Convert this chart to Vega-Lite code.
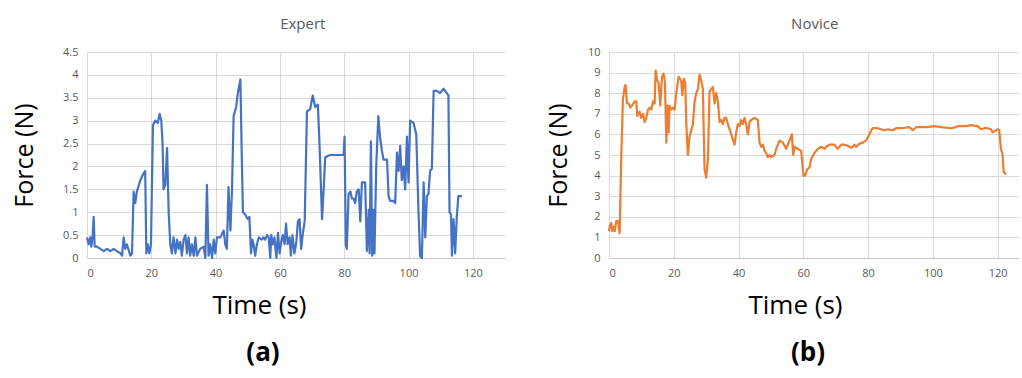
{
 "$schema": "https://vega.github.io/schema/vega-lite/v6.json",
 "padding": {"left": 12, "top": 17, "right": 0, "bottom": 0},
 "spacing": 41,
 "config": {
   "view": {"stroke": null},
   "font": "Open Sans",
   "axis": {"grid": true, "gridColor": "#d9d9d9", "ticks": false, "labelColor": "#595959", "labelFontSize": 11, "titleFontWeight": "normal", "titleColor": "#000000", "domain": false, "labelPadding": 9, "format": "~r"},
   "axisX": {"domain": true, "domainColor": "#c8c8c8", "titlePadding": 14, "titleFontSize": 26},
   "axisY": {"titleFontSize": 25},
   "title": {"fontSize": 15, "fontWeight": "normal", "color": "#595959", "offset": 14, "anchor": "middle"}
 },
 "datasets": {
  "expert": [
   {"t":0,"f":0.45},{"t":0.5,"f":0.3},{"t":1,"f":0.45},{"t":1.35,"f":0.25},{"t":1.76,"f":0.5},{"t":2.07,"f":0.9},{"t":2.38,"f":0.25},{"t":3.1,"f":0.25},{"t":4.15,"f":0.2},{"t":5.2,"f":0.15},{"t":6.2,"f":0.2},{"t":7.25,"f":0.15},{"t":8.3,"f":0.2},{"t":9.3,"f":0.15},{"t":10.4,"f":0.1},{"t":10.9,"f":0.05},{"t":11.4,"f":0.45},{"t":11.9,"f":0.2},{"t":12.4,"f":0.3},{"t":13.5,"f":0.05},{"t":14,"f":0.1},{"t":14.5,"f":1.45},{"t":15,"f":1.2},{"t":15.5,"f":1.45},{"t":16.6,"f":1.7},{"t":17.6,"f":1.85},{"t":18.1,"f":1.9},{"t":18.45,"f":0.1},{"t":18.9,"f":0.3},{"t":19.4,"f":0.1},{"t":19.9,"f":0.3},{"t":20.5,"f":2.9},{"t":21.2,"f":3.0},{"t":22,"f":2.95},{"t":22.6,"f":3.15},{"t":23.1,"f":3.0},{"t":23.5,"f":2.5},{"t":23.8,"f":1.5},{"t":24.35,"f":1.6},{"t":24.9,"f":2.4},{"t":25.4,"f":1.0},{"t":25.9,"f":0.3},{"t":26.4,"f":0.1},{"t":26.9,"f":0.45},{"t":27.5,"f":0.1},{"t":28,"f":0.4},{"t":28.5,"f":0.2},{"t":29,"f":0.35},{"t":29.5,"f":0.05},{"t":30.05,"f":0.4},{"t":30.6,"f":0.5},{"t":31.1,"f":0.1},{"t":31.6,"f":0.45},{"t":32.1,"f":0.05},{"t":32.6,"f":0.3},{"t":33.2,"f":0.05},{"t":33.7,"f":0.45},{"t":34.2,"f":0.05},{"t":35.2,"f":0.2},{"t":36.3,"f":0.25},{"t":36.8,"f":0.0},{"t":37.3,"f":1.6},{"t":37.8,"f":0.05},{"t":38.3,"f":0.3},{"t":38.9,"f":0.0},{"t":39.4,"f":0.4},{"t":39.9,"f":0.1},{"t":40.4,"f":0.45},{"t":41.5,"f":0.45},{"t":42.5,"f":0.6},{"t":43,"f":0.3},{"t":43.5,"f":0.2},{"t":44,"f":1.55},{"t":44.6,"f":0.6},{"t":45.1,"f":1.5},{"t":45.6,"f":3.1},{"t":46.4,"f":3.3},{"t":46.9,"f":3.6},{"t":47.7,"f":3.9},{"t":48.2,"f":2.0},{"t":48.5,"f":1.0},{"t":49.2,"f":0.95},{"t":49.95,"f":0.85},{"t":50.5,"f":0.9},{"t":51,"f":0.1},{"t":51.4,"f":0.4},{"t":51.8,"f":0.3},{"t":52.3,"f":0.05},{"t":52.85,"f":0.3},{"t":53.4,"f":0.45},{"t":54.4,"f":0.4},{"t":54.9,"f":0.45},{"t":55.4,"f":0.4},{"t":56,"f":0.5},{"t":56.5,"f":0.45},{"t":57,"f":0.0},{"t":57.3,"f":0.5},{"t":57.8,"f":0.3},{"t":58.3,"f":0.45},{"t":58.9,"f":0.0},{"t":59.4,"f":0.55},{"t":59.9,"f":0.1},{"t":60.4,"f":0.35},{"t":60.9,"f":0.5},{"t":61.45,"f":0.3},{"t":61.9,"f":0.75},{"t":62.4,"f":0.3},{"t":63,"f":0.45},{"t":63.4,"f":0.05},{"t":63.9,"f":0.5},{"t":64.5,"f":0.1},{"t":65.1,"f":0.35},{"t":65.6,"f":0.8},{"t":66.1,"f":0.85},{"t":66.6,"f":0.2},{"t":67.15,"f":0.55},{"t":67.7,"f":0.8},{"t":68.4,"f":3.2},{"t":69.4,"f":3.25},{"t":70.2,"f":3.55},{"t":71,"f":3.3},{"t":71.8,"f":3.35},{"t":72.3,"f":2.5},{"t":73.1,"f":0.85},{"t":73.6,"f":1.5},{"t":74.1,"f":2.2},{"t":75.6,"f":2.25},{"t":77.7,"f":2.25},{"t":79.8,"f":2.25},{"t":80.1,"f":2.65},{"t":80.5,"f":0.3},{"t":80.8,"f":0.2},{"t":81.35,"f":1.4},{"t":81.9,"f":1.45},{"t":82.4,"f":1.3},{"t":82.9,"f":1.3},{"t":83.4,"f":1.2},{"t":83.9,"f":1.45},{"t":84.5,"f":1.5},{"t":85,"f":0.8},{"t":85.5,"f":1.65},{"t":86,"f":1.65},{"t":86.5,"f":1.65},{"t":87.05,"f":0.15},{"t":87.6,"f":1.05},{"t":87.9,"f":0.1},{"t":88.3,"f":2.55},{"t":88.7,"f":0.05},{"t":89.1,"f":1.05},{"t":89.4,"f":0.1},{"t":89.95,"f":2.0},{"t":90.6,"f":3.1},{"t":91.2,"f":2.6},{"t":91.7,"f":2.35},{"t":92.2,"f":2.15},{"t":93.3,"f":2.15},{"t":93.8,"f":1.35},{"t":94.3,"f":1.25},{"t":95.3,"f":1.25},{"t":95.85,"f":1.2},{"t":96.4,"f":2.3},{"t":96.9,"f":1.9},{"t":97.4,"f":2.45},{"t":97.9,"f":1.7},{"t":98.45,"f":2.0},{"t":98.96,"f":1.5},{"t":99.5,"f":2.65},{"t":100,"f":1.65},{"t":100.5,"f":3.0},{"t":101.55,"f":2.95},{"t":102.4,"f":2.7},{"t":103.1,"f":1.0},{"t":103.6,"f":0.05},{"t":104.15,"f":0.0},{"t":104.7,"f":1.65},{"t":105.2,"f":0.45},{"t":105.7,"f":1.35},{"t":106.2,"f":1.4},{"t":106.7,"f":1.9},{"t":107.25,"f":1.95},{"t":107.8,"f":3.65},{"t":108.8,"f":3.65},{"t":109.8,"f":3.6},{"t":110.9,"f":3.7},{"t":111.9,"f":3.6},{"t":112.4,"f":3.55},{"t":112.75,"f":1.0},{"t":113.2,"f":0.95},{"t":113.5,"f":0.05},{"t":114,"f":0.85},{"t":114.5,"f":0.1},{"t":115,"f":0.9},{"t":115.5,"f":1.35},{"t":116.6,"f":1.35}
  ],
  "novice": [
   {"t":0,"f":1.3},{"t":0.3,"f":1.6},{"t":0.7,"f":1.7},{"t":1.0,"f":1.3},{"t":1.4,"f":1.5},{"t":1.75,"f":1.3},{"t":2.26,"f":1.8},{"t":2.78,"f":1.8},{"t":3.29,"f":1.2},{"t":3.8,"f":5.0},{"t":4.3,"f":7.7},{"t":4.83,"f":8.3},{"t":5.14,"f":8.4},{"t":5.55,"f":7.5},{"t":6.07,"f":7.5},{"t":6.58,"f":7.3},{"t":7.1,"f":7.4},{"t":7.92,"f":7.6},{"t":8.43,"f":7.6},{"t":8.74,"f":6.9},{"t":9.46,"f":7.1},{"t":9.97,"f":6.8},{"t":10.49,"f":7.0},{"t":11,"f":6.6},{"t":11.52,"f":6.8},{"t":12.03,"f":7.2},{"t":12.54,"f":7.3},{"t":13.06,"f":7.2},{"t":13.57,"f":7.6},{"t":14.09,"f":7.5},{"t":14.4,"f":9.1},{"t":14.91,"f":8.6},{"t":15.32,"f":8.5},{"t":15.84,"f":7.4},{"t":16.35,"f":8.8},{"t":16.86,"f":8.95},{"t":17.28,"f":8.5},{"t":17.69,"f":5.6},{"t":18,"f":7.4},{"t":18.41,"f":6.1},{"t":18.71,"f":7.4},{"t":19.23,"f":7.2},{"t":19.74,"f":7.3},{"t":20.26,"f":7.2},{"t":20.77,"f":8.0},{"t":21.49,"f":8.8},{"t":22.31,"f":8.6},{"t":22.62,"f":7.9},{"t":23.14,"f":8.7},{"t":23.55,"f":8.5},{"t":23.86,"f":6.5},{"t":24.37,"f":5.0},{"t":24.88,"f":5.9},{"t":25.4,"f":6.2},{"t":25.91,"f":6.5},{"t":26.43,"f":7.6},{"t":26.94,"f":8.0},{"t":27.46,"f":8.2},{"t":27.97,"f":8.9},{"t":28.48,"f":8.6},{"t":29,"f":8.2},{"t":29.2,"f":6.5},{"t":29.51,"f":4.3},{"t":30.03,"f":3.9},{"t":30.54,"f":4.8},{"t":31.05,"f":8.1},{"t":31.57,"f":8.2},{"t":32.08,"f":8.3},{"t":32.6,"f":7.5},{"t":33.11,"f":8.0},{"t":33.62,"f":7.6},{"t":34.14,"f":6.6},{"t":34.65,"f":6.7},{"t":35.17,"f":6.5},{"t":35.68,"f":6.8},{"t":36.2,"f":6.8},{"t":36.71,"f":6.5},{"t":37.74,"f":6.0},{"t":38.77,"f":5.5},{"t":39.28,"f":6.1},{"t":39.79,"f":6.5},{"t":40.31,"f":6.4},{"t":40.82,"f":6.7},{"t":41.34,"f":6.5},{"t":41.85,"f":6.8},{"t":42.37,"f":6.5},{"t":42.88,"f":6.0},{"t":43.39,"f":6.6},{"t":43.91,"f":6.7},{"t":44.94,"f":6.8},{"t":45.96,"f":6.7},{"t":46.48,"f":5.6},{"t":46.99,"f":5.4},{"t":47.51,"f":5.5},{"t":48.02,"f":5.2},{"t":48.53,"f":5.1},{"t":49.05,"f":4.9},{"t":49.56,"f":5.0},{"t":50.08,"f":4.9},{"t":51.11,"f":5.0},{"t":51.62,"f":5.3},{"t":52.65,"f":5.7},{"t":53.68,"f":5.6},{"t":54.7,"f":5.3},{"t":55.22,"f":5.5},{"t":55.73,"f":5.7},{"t":56.45,"f":6.0},{"t":56.86,"f":5.0},{"t":57.28,"f":5.4},{"t":58.3,"f":5.3},{"t":59.33,"f":5.2},{"t":60.05,"f":4.0},{"t":60.57,"f":4.0},{"t":61.18,"f":4.3},{"t":61.9,"f":4.4},{"t":62.42,"f":4.8},{"t":63.44,"f":5.1},{"t":64.47,"f":5.3},{"t":65.5,"f":5.4},{"t":66.53,"f":5.3},{"t":67.04,"f":5.4},{"t":68.07,"f":5.5},{"t":69.61,"f":5.5},{"t":70.64,"f":5.3},{"t":71.67,"f":5.5},{"t":72.7,"f":5.5},{"t":73.73,"f":5.45},{"t":74.76,"f":5.35},{"t":75.27,"f":5.4},{"t":75.78,"f":5.5},{"t":76.3,"f":5.4},{"t":77.33,"f":5.55},{"t":78.36,"f":5.6},{"t":79.38,"f":5.7},{"t":80.41,"f":6.0},{"t":80.93,"f":6.2},{"t":81.44,"f":6.3},{"t":82.98,"f":6.3},{"t":84.01,"f":6.25},{"t":85.04,"f":6.2},{"t":86.07,"f":6.25},{"t":87.61,"f":6.2},{"t":88.64,"f":6.3},{"t":90.18,"f":6.3},{"t":92.75,"f":6.35},{"t":93.78,"f":6.2},{"t":94.81,"f":6.35},{"t":96.35,"f":6.35},{"t":98.41,"f":6.35},{"t":100.46,"f":6.4},{"t":102.52,"f":6.35},{"t":105.6,"f":6.3},{"t":107.15,"f":6.35},{"t":107.66,"f":6.4},{"t":110.23,"f":6.4},{"t":111.77,"f":6.45},{"t":113.83,"f":6.4},{"t":114.86,"f":6.25},{"t":115.89,"f":6.3},{"t":116.92,"f":6.3},{"t":117.94,"f":6.25},{"t":118.48,"f":6.1},{"t":119.51,"f":6.2},{"t":120,"f":6.25},{"t":120.51,"f":6.2},{"t":121.03,"f":5.3},{"t":121.54,"f":5.0},{"t":121.85,"f":4.2},{"t":122.57,"f":4.05}
  ]
 },
 "hconcat": [
  {
   "title": {"text": "Expert", "anchor": "middle", "dx": 44},
   "vconcat": [
    {
     "title": {"text": "(a)", "orient": "bottom", "fontSize": 26, "fontWeight": "bold", "color": "#000000", "offset": 22, "anchor": "middle", "dx": -33},
     "width": 418, "height": 206,
     "data": {"name": "expert"},
     "mark": {"type": "line", "color": "#4472C4", "strokeWidth": 2.2, "strokeJoin": "round"},
     "encoding": {
      "x": {"field": "t", "type": "quantitative", "scale": {"domain": [0, 130], "nice": false}, "axis": {"values": [0, 20, 40, 60, 80, 100, 120], "title": "Time (s)", "titleX": 172}},
      "y": {"field": "f", "type": "quantitative", "scale": {"domain": [0, 4.5], "nice": false}, "axis": {"values": [0, 0.5, 1, 1.5, 2, 2.5, 3, 3.5, 4, 4.5], "title": "Force (N)", "titlePadding": 25}}
     }
    }
   ]
  },
  {
   "title": {"text": "Novice", "anchor": "middle", "dx": 32},
   "vconcat": [
    {
     "title": {"text": "(b)", "orient": "bottom", "fontSize": 26, "fontWeight": "bold", "color": "#000000", "offset": 22, "anchor": "middle", "dx": -6},
     "width": 410, "height": 206,
     "data": {"name": "novice"},
     "mark": {"type": "line", "color": "#ED7D31", "strokeWidth": 2.2, "strokeJoin": "round"},
     "encoding": {
      "x": {"field": "t", "type": "quantitative", "scale": {"domain": [0, 126.6], "nice": false}, "axis": {"values": [0, 20, 40, 60, 80, 100, 120], "title": "Time (s)", "titleX": 186}},
      "y": {"field": "f", "type": "quantitative", "scale": {"domain": [0, 10], "nice": false}, "axis": {"values": [0, 1, 2, 3, 4, 5, 6, 7, 8, 9, 10], "title": "Force (N)", "titlePadding": 16}}
     }
    }
   ]
  }
 ]
}
